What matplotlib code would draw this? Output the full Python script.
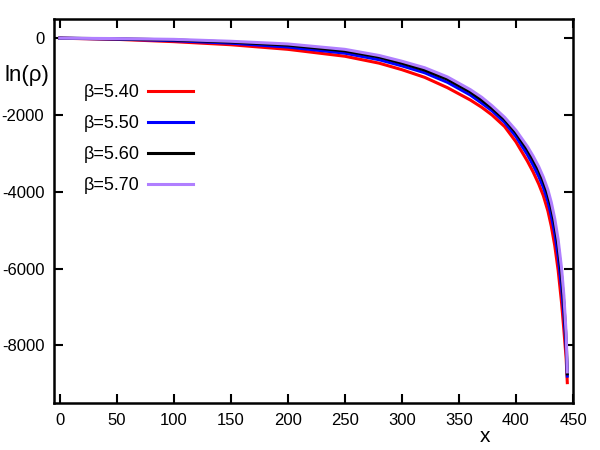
import matplotlib
matplotlib.use('Agg')
import matplotlib.pyplot as plt

plt.rcParams['font.family'] = ['Liberation Sans', 'DejaVu Sans']
plt.rcParams['axes.unicode_minus'] = False

x = [0, 50, 100, 150, 200, 250, 280, 300, 320, 340, 360, 370, 379, 390, 400, 410, 415, 420,
     424, 428, 431, 434, 437, 440, 442, 444, 445]
y_540 = [0, -30, -90, -170, -290, -470, -650, -820, -1020, -1290, -1610, -1800, -2000, -2300,
         -2700, -3200, -3480, -3800, -4100, -4500, -4900, -5400, -6050, -6900, -7600, -8350, -8970]
y_550 = [0, -22, -65, -130, -230, -390, -560, -720, -900, -1150, -1480, -1690, -1890, -2190,
         -2560, -3030, -3300, -3600, -3880, -4250, -4620, -5080, -5690, -6500, -7200, -8050, -8800]
y_560 = [0, -15, -45, -100, -180, -330, -490, -650, -830, -1070, -1400, -1610, -1820, -2110,
         -2460, -2900, -3160, -3440, -3720, -4060, -4400, -4840, -5400, -6200, -6900, -7850, -8740]
y_570 = [0, -10, -30, -80, -150, -290, -450, -600, -770, -1010, -1340, -1540, -1760, -2060,
         -2400, -2820, -3070, -3350, -3620, -3950, -4280, -4700, -5250, -6000, -6700, -7700, -8690]

labels = ['β=5.40', 'β=5.50', 'β=5.60', 'β=5.70']
colors = ['#ff0000', '#0000ff', '#000000', '#b07fff']
series = [y_540, y_550, y_560, y_570]

fig = plt.figure(figsize=(6, 4.5), dpi=100)
ax = fig.add_axes([54/600, 1-403/450, (573-54)/600, (403-19)/450])

for ys, lab, c in zip(series, labels, colors):
    ax.plot(x, ys, color=c, lw=2.2, label=lab, solid_joinstyle='round')

ax.set_xlim(-5, 450)
ax.set_ylim(-9500, 500)
ax.set_xticks(range(0, 451, 50))
ax.set_yticks([0, -2000, -4000, -6000, -8000])
ax.tick_params(direction='in', length=6.5, width=1.5, top=True, right=True,
               labelsize=12, pad=7)
for s in ax.spines.values():
    s.set_linewidth(1.8)

fig.text(4/600, 1-75/450, 'ln(ρ)', fontsize=16, ha='left', va='center')
fig.text(485/600, 1-437/450, 'x', fontsize=15, ha='center', va='center')

ax.legend(loc='upper right', bbox_to_anchor=(193/600, 1-84/450),
          bbox_transform=fig.transFigure, frameon=False, markerfirst=False,
          fontsize=13, handlelength=2.5, handletextpad=0.45, labelspacing=0.78,
          borderpad=0, borderaxespad=0)

fig.savefig('out.png', dpi=100)
